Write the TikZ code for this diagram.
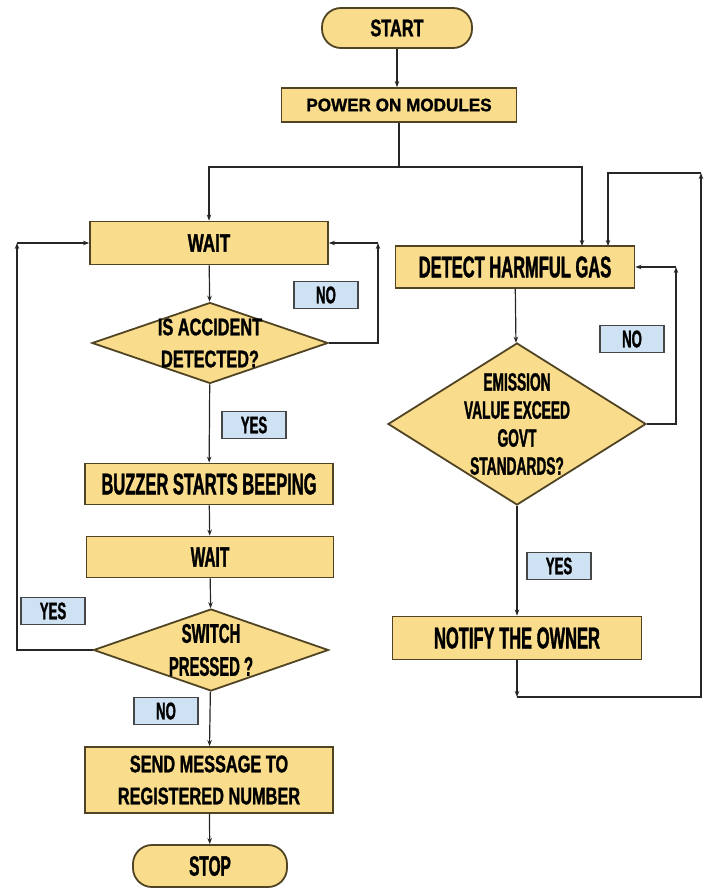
\documentclass[tikz,border=0pt]{standalone}
\usepackage{fontspec}
\usepackage{tikz}
\usetikzlibrary{shapes.geometric, arrows.meta, positioning, calc}
\newfontfamily\condA[FakeStretch=0.55, FakeBold=1.2]{Liberation Sans}
\newfontfamily\condB[FakeStretch=0.68, FakeBold=1.2]{Liberation Sans}
\newfontfamily\condC[FakeStretch=0.95, FakeBold=1.2]{Liberation Sans}
\definecolor{boxfill}{RGB}{249,221,140}
\definecolor{boxline}{RGB}{80,68,36}
\definecolor{tagfill}{RGB}{207,226,243}
\definecolor{tagline}{RGB}{70,70,70}

\begin{document}
\begin{tikzpicture}[x=1pt, y=-1pt,
    procbox/.style={draw=boxline, fill=boxfill, line width=1.8pt, inner sep=0pt, align=center},
    termbox/.style={procbox, rounded corners=19pt},
    decbox/.style={draw=boxline, fill=boxfill, line width=1.8pt, diamond, inner sep=0pt},
    tagbox/.style={draw=tagline, fill=tagfill, line width=1.4pt, inner sep=0pt,
      minimum width=64pt, minimum height=27pt, font=\condA\bfseries\fontsize{24}{24}\selectfont},
    flow/.style={draw=black!85, line width=1.2pt},
    arr/.style={flow, -{Stealth[length=6pt, width=4.5pt]}}]
  \useasboundingbox (0,0) rectangle (707,888);

  % main line
  \node[termbox, minimum width=150pt, minimum height=40pt, font=\condB\bfseries\fontsize{24}{24}\selectfont] (start) at (397,28) {START};
  \node[procbox, minimum width=235pt, minimum height=34pt, font=\condC\bfseries\fontsize{18}{18}\selectfont] (power) at (399,105) {POWER ON MODULES};

  % accident branch
  \node[procbox, minimum width=238pt, minimum height=43pt, font=\condB\bfseries\fontsize{25}{25}\selectfont] (wait1) at (209,243) {WAIT};
  \node[decbox, minimum width=236pt, minimum height=81pt,
    label={[font=\condB\bfseries\fontsize{24}{32}\selectfont, align=center]center:{IS ACCIDENT\\DETECTED?}}] (q1) at (210,343) {};
  \node[procbox, minimum width=248pt, minimum height=41pt, font=\condA\bfseries\fontsize{30}{30}\selectfont] (buzz) at (209,484) {BUZZER STARTS BEEPING};
  \node[procbox, minimum width=247pt, minimum height=41pt, font=\condA\bfseries\fontsize{28}{28}\selectfont] (wait2) at (210,557) {WAIT};
  \node[decbox, minimum width=235pt, minimum height=82pt,
    label={[font=\condA\bfseries\fontsize{27}{33}\selectfont, align=center]center:{SWITCH\\PRESSED ?}}] (q2) at (211,650) {};
  \node[procbox, minimum width=248pt, minimum height=66pt, font=\condB\bfseries\fontsize{24}{32}\selectfont] (send) at (209,780) {SEND MESSAGE TO\\REGISTERED NUMBER};
  \node[termbox, minimum width=154pt, minimum height=42pt, font=\condA\bfseries\fontsize{28}{28}\selectfont] (stop) at (210,866) {STOP};

  % gas branch
  \node[procbox, minimum width=239pt, minimum height=42pt, font=\condA\bfseries\fontsize{30}{30}\selectfont] (detect) at (515,267) {DETECT HARMFUL GAS};
  \node[decbox, minimum width=258pt, minimum height=162pt,
    label={[font=\condA\bfseries\fontsize{25}{28}\selectfont, align=center]center:{EMISSION\\VALUE EXCEED\\GOVT\\STANDARDS?}}] (q3) at (517,424) {};
  \node[procbox, minimum width=249pt, minimum height=43pt, font=\condA\bfseries\fontsize{30}{30}\selectfont] (notify) at (517,638) {NOTIFY THE OWNER};

  % yes / no tags
  \node[tagbox] (noA) at (326,295) {NO};
  \node[tagbox] (yesA) at (254,425) {YES};
  \node[tagbox] (yesB) at (53,611) {YES};
  \node[tagbox] (noB) at (166,711) {NO};
  \node[tagbox] (noC) at (632,339) {NO};
  \node[tagbox] (yesC) at (559,566) {YES};

  % turning points
  \coordinate (split) at (399,167);
  \coordinate (gasIn) at (582,246);
  \coordinate (accTurn) at (378,243);
  \coordinate (swTurn) at (17,243);
  \coordinate (gasTurn) at (676,267);
  \coordinate (ownEnd) at (517,697);
  \coordinate (ownTurn) at (701,173);
  \coordinate (gasBack) at (608,246);

  % connectors
  \draw[arr] (start.south) -- (start.south |- power.north);
  \draw[flow] (power.south) -- (split);
  \draw[arr] (split) -| (wait1.north);
  \draw[arr] (split) -| (gasIn);
  \draw[arr] (wait1) -- (q1);
  \draw[arr] (q1) -- (buzz);
  \draw[arr] (buzz) -- (wait2);
  \draw[arr] (wait2) -- (q2);
  \draw[arr] (q2) -- (send);
  \draw[arr] (send) -- (stop);
  \draw[arr] (q1.east) -| (accTurn);
  \draw[arr] (accTurn) -- (wait1.east);
  \draw[arr] (q2.west) -| (swTurn);
  \draw[arr] (swTurn) -- (wait1.west);
  \draw[arr] (detect) -- (q3);
  \draw[arr] (q3) -- (notify);
  \draw[arr] (q3.east) -| (gasTurn);
  \draw[arr] (gasTurn) -- (detect.east);
  \draw[arr] (notify.south) -- (ownEnd);
  \draw[arr] (ownEnd) -| (ownTurn);
  \draw[arr] (ownTurn) -| (gasBack);
\end{tikzpicture}
\end{document}
